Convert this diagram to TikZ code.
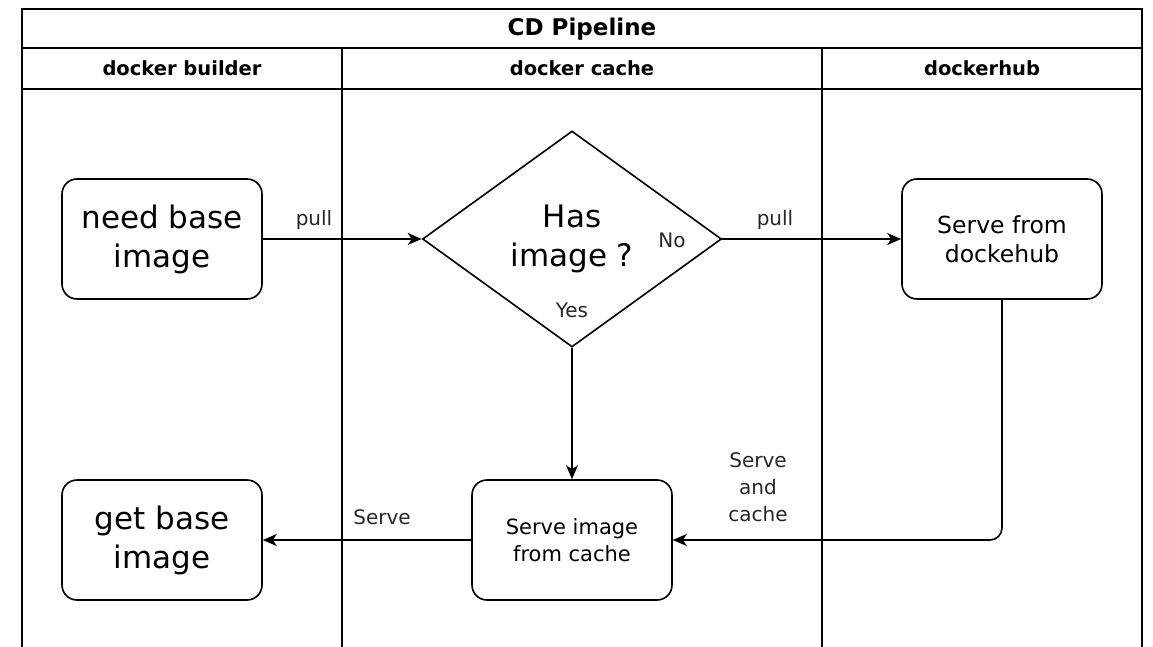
\documentclass[tikz,border=0pt]{standalone}
\usepackage{fontspec}
\setmainfont{DejaVu Sans}
\usetikzlibrary{shapes.geometric,arrows.meta}
\begin{document}
\begin{tikzpicture}[x=1pt,y=-1pt,
  frameline/.style={line width=2pt},
  laneline/.style={line width=1.6pt},
  hdr/.style={font=\bfseries\fontsize{19.5}{23}\selectfont},
  boxnode/.style={draw,line width=1.6pt,rounded corners=15pt,minimum width=200pt,minimum height=120pt,inner sep=0pt,align=center},
  bigtxt/.style={font=\fontsize{31}{39}\selectfont},
  midtxt/.style={font=\fontsize{23.5}{29}\selectfont},
  lbl/.style={font=\fontsize{20}{27}\selectfont,text=black!85,align=center,inner sep=0pt},
  conn/.style={line width=1.6pt,-{Stealth[length=14pt,width=12pt,inset=4pt]}}
]
\useasboundingbox (0,0) rectangle (1153,647);
% frame
\coordinate (tl) at (22,9);
\coordinate (tr) at (1142,9);
\coordinate (bl) at (22,647);
\coordinate (br) at (1142,647);
\draw[frameline] (bl) -- (tl) -- (tr) -- (br);
\draw[laneline] (22,48) -- (1142,48);
\draw[laneline] (22,89) -- (1142,89);
\draw[laneline] (342,48) -- (342,647);
\draw[laneline] (822,48) -- (822,647);
% headers
\node[hdr,font=\bfseries\fontsize{23}{27}\selectfont] (title) at (582,29) {CD Pipeline};
\node[hdr] (h1) at (182,68) {docker builder};
\node[hdr] (h2) at (582,68) {docker cache};
\node[hdr] (h3) at (982,68) {dockerhub};
% nodes
\node[boxnode,bigtxt] (need) at (162,239) {need base\\image};
\node[boxnode,bigtxt] (get) at (162,540) {get base\\image};
\node[draw,diamond,line width=1.6pt,minimum width=299pt,minimum height=216pt,inner sep=0pt,aspect=1.38,align=center,bigtxt] (dec) at (572,239) {Has\\image ?};
\node[boxnode,midtxt] (hub) at (1002,239) {Serve from\\dockehub};
\node[boxnode,font=\fontsize{21}{27}\selectfont] (cache) at (572,540) {Serve image\\from cache};
% connectors
\draw[conn] (need) -- (dec.west);
\draw[conn] (dec.east) -- (hub);
\draw[conn] (dec.south) -- (cache);
\draw[conn,rounded corners=12pt] (hub.south) |- (cache.east);
\draw[conn] (cache) -- (get);
% labels
\node[lbl] (l1) at (314,220) {pull};
\node[lbl] (l2) at (775,220) {pull};
\node[lbl] (lno) at (672,240) {No};
\node[lbl] (lyes) at (572,310) {Yes};
\node[lbl] (lsc) at (758,487) {Serve\\and\\cache};
\node[lbl] (ls) at (382,517) {Serve};
\end{tikzpicture}
\end{document}
